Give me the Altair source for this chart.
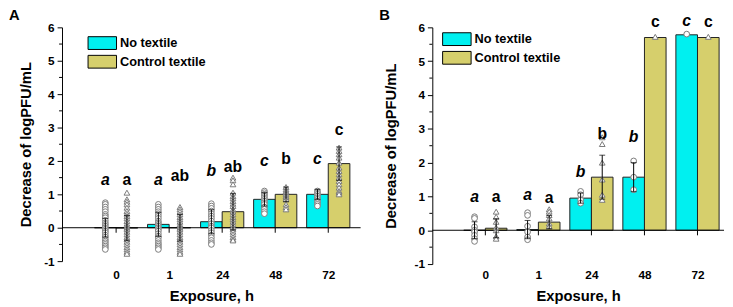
import altair as alt
import pandas as pd

hours = ["0", "1", "24", "48", "72"]
series = ["No textile", "Control textile"]
y_major = [-1, 0, 1, 2, 3, 4, 5, 6]
y_minor = [-0.5, 0.5, 1.5, 2.5, 3.5, 4.5, 5.5]

# Panel A
A_mean_no = [0.0, 0.10, 0.18, 0.85, 1.00]
A_mean_ctrl = [-0.01, 0.0, 0.48, 1.00, 1.92]
A_sd_no = [0.28, 0.36, 0.36, 0.20, 0.15]
A_sd_ctrl = [0.38, 0.40, 0.55, 0.22, 0.50]
A_let_no = ["a", "a", "b", "c", "c"]
A_let_ctrl = ["a", "ab", "ab", "b", "c"]
A_lety_no = [1.29, 1.29, 1.56, 1.86, 1.91]
A_lety_ctrl = [1.29, 1.41, 1.68, 1.91, 2.79]
A_pts_no = [
    [0.75, 0.7, 0.62, 0.55, 0.48, 0.4, 0.35, 0.3, 0.22, 0.15, 0.1, 0.05, 0.0,
     -0.05, -0.1, -0.15, -0.22, -0.28, -0.35, -0.4, -0.45, -0.5, -0.55, -0.6, -0.65],
    [0.7, 0.62, 0.55, 0.48, 0.42, 0.35, 0.28, 0.2, 0.15, 0.1, 0.05, 0.0, -0.05,
     -0.1, -0.18, -0.25, -0.3, -0.38, -0.45, -0.5, -0.55, -0.6, -0.65],
    [0.72, 0.65, 0.58, 0.5, 0.42, 0.35, 0.28, 0.2, 0.12, 0.05, 0.0, -0.08,
     -0.15, -0.22, -0.3, -0.38, -0.45, -0.5],
    [1.1, 1.05, 1.0, 0.95, 0.9, 0.85, 0.8, 0.75, 0.7, 0.62, 0.55, 0.48, 0.42],
    [1.1, 1.05, 1.0, 0.95, 0.9, 0.85, 0.8, 0.75, 0.7, 0.65],
]
A_pts_ctrl = [
    [1.05, 0.85, 0.78, 0.7, 0.6, 0.5, 0.42, 0.35, 0.28, 0.2, 0.12, 0.05, 0.0,
     -0.05, -0.12, -0.2, -0.28, -0.35, -0.42, -0.5, -0.58, -0.65, -0.72, -0.78],
    [0.62, 0.55, 0.48, 0.4, 0.32, 0.25, 0.18, 0.1, 0.05, 0.0, -0.05, -0.12,
     -0.2, -0.28, -0.35, -0.42, -0.5, -0.58, -0.65, -0.72, -0.78],
    [1.5, 1.42, 1.3, 1.05, 0.95, 0.88, 0.8, 0.72, 0.65, 0.55, 0.48, 0.4, 0.32,
     0.25, 0.18, 0.1, 0.02, -0.05, -0.12, -0.2, -0.28, -0.35, -0.38],
    [1.22, 1.15, 1.1, 1.05, 1.0, 0.95, 0.9, 0.85, 0.7, 0.62, 0.55],
    [2.4, 2.3, 2.2, 2.1, 1.95, 1.8, 1.7, 1.6, 1.5, 1.4, 1.3, 1.2, 1.1, 1.05, 1.0],
]

# Panel B
B_mean_no = [0.0, 0.02, 0.95, 1.57, 5.78]
B_mean_ctrl = [0.06, 0.24, 1.57, 5.70, 5.70]
B_sd_no = [0.25, 0.27, 0.15, 0.43, 0.0]
B_sd_ctrl = [0.28, 0.20, 0.65, 0.0, 0.0]
B_let_no = ["a", "a", "b", "b", "c"]
B_let_ctrl = ["a", "a", "b", "c", "c"]
B_lety_no = [0.85, 0.88, 1.57, 2.62, 6.03]
B_lety_ctrl = [0.85, 0.82, 2.71, 6.01, 6.01]
B_pts_no = [
    [0.4, 0.35, 0.1, 0.0, -0.05, -0.15, -0.25, -0.33],
    [0.52, 0.44, 0.12, -0.05, -0.2, -0.28],
    [1.15, 1.05, 0.9, 0.8],
    [2.05, 1.57, 1.2],
    [5.8],
]
B_pts_ctrl = [
    [0.55, 0.4, 0.25, 0.08, 0.0, -0.18, -0.25],
    [0.62, 0.55, 0.45, 0.35, 0.2, 0.12],
    [2.75, 2.55, 2.0, 1.5, 1.05, 0.9],
    [5.72],
    [5.72],
]

CYAN = "#00f0f0"
HATCH = "#d6cf6c"
FONT = "Liberation Sans"
HALF = 22 / 54  # bar width in group units


def build_tables(mean_no, mean_ctrl, sd_no, sd_ctrl, let_no, let_ctrl,
                 lety_no, lety_ctrl, pts_no, pts_ctrl):
    summ = []
    pts = []
    for i, h in enumerate(hours):
        for s, m, sd, lt, ly, pl in (
            (series[0], mean_no[i], sd_no[i], let_no[i], lety_no[i], pts_no[i]),
            (series[1], mean_ctrl[i], sd_ctrl[i], let_ctrl[i], lety_ctrl[i], pts_ctrl[i]),
        ):
            summ.append({"idx": i, "hour": h, "series": s, "mean": m, "sd": sd,
                         "letter": lt, "lety": ly})
            for v in pl:
                pts.append({"idx": i, "hour": h, "series": s, "value": v})
    return pd.DataFrame(summ), pd.DataFrame(pts)


label_expr = "[" + ",".join("'%s'" % h for h in hours) + "][datum.value]"
side = "(datum.series === '%s' ? -1 : 1)" % series[0]
is_no = "datum.series === '%s'" % series[0]


def panel(summ, pts, xdom, width, height, legx, legy, labpad, ytpad, letter):
    xs = alt.Scale(domain=xdom, nice=False, zero=False)
    ys = alt.Scale(domain=[-1, 6], nice=False, zero=False)
    xaxis = alt.Axis(values=list(range(len(hours))), labelExpr=label_expr,
                     domain=False, ticks=False, grid=False, title="Exposure, h",
                     labelFontSize=12, labelFontWeight="bold", labelColor="#000",
                     labelPadding=labpad, titleFontSize=15, titleFontWeight="bold",
                     titleColor="#000", titlePadding=8, labelFont=FONT, titleFont=FONT)
    yaxis = alt.Axis(values=y_major, labelOverlap=False, tickSize=5,
                     labelExpr="'' + datum.value",
                     grid=False, domainColor="#000", tickColor="#000",
                     title="Decrease of logPFU/mL", labelFontSize=12,
                     labelFontWeight="bold", labelColor="#000", labelPadding=3,
                     titleFontSize=15, titleFontWeight="bold", titleColor="#000",
                     titlePadding=ytpad, labelFont=FONT, titleFont=FONT)
    X = lambda f: alt.X(f, scale=xs, axis=xaxis)
    Y = lambda f: alt.Y(f, scale=ys, axis=yaxis)

    base = alt.Chart(summ).transform_calculate(
        xl="datum.idx + (%s < 0 ? -%f : 0)" % (side, HALF),
        xr="datum.idx + (%s < 0 ? 0 : %f)" % (side, HALF),
        xc="datum.idx + %s * %f" % (side, HALF / 2),
        lo="datum.mean - datum.sd",
        hi="datum.mean + datum.sd",
        zero="0",
    )

    bars = base.mark_rect(stroke="#222", strokeWidth=1).encode(
        x=X("xl:Q"),
        x2="xr:Q",
        y=Y("zero:Q"),
        y2="mean:Q",
        fill=alt.Fill("series:N",
                      scale=alt.Scale(domain=series, range=[CYAN, HATCH]),
                      legend=alt.Legend(title=None, orient="none", legendX=legx,
                                        legendY=legy, direction="vertical",
                                        symbolType="M-2.23,-1H2.23V1H-2.23Z",
                                        symbolSize=169, symbolStrokeColor="#000",
                                        symbolStrokeWidth=1, symbolOpacity=1,
                                        labelFontSize=13, labelFontWeight="bold",
                                        labelColor="#000", labelFont=FONT,
                                        labelOffset=11, rowPadding=1, padding=0)),
    )

    zero_line = alt.Chart(pd.DataFrame({"y": [0]})).mark_rule(
        color="#000", strokeWidth=1).encode(y=Y("y:Q"))

    minor = alt.Chart(pd.DataFrame({"y": y_minor})).mark_rule(
        color="#000", strokeWidth=1).encode(
        y=Y("y:Q"), x=alt.value(-3), x2=alt.value(0))

    ticks = alt.Chart(pd.DataFrame({"idx": list(range(len(hours)))})).transform_calculate(
        y0="0", y1="-0.15").mark_rule(color="#000", strokeWidth=1).encode(
        x=X("idx:Q"), y=Y("y0:Q"), y2="y1:Q")

    pbase = alt.Chart(pts).transform_calculate(
        xc="datum.idx + %s * %f" % (side, HALF / 2))
    pt_kw = dict(filled=False, fill="#fff", fillOpacity=1, strokeWidth=1,
                 color="#7a7a7a", size=34, opacity=1)
    circ = pbase.transform_filter(is_no).mark_point(shape="circle", **pt_kw).encode(
        x=X("xc:Q"), y=Y("value:Q"))
    tri = pbase.transform_filter("!(" + is_no + ")").mark_point(
        shape="triangle-up", **pt_kw).encode(x=X("xc:Q"), y=Y("value:Q"))

    err_base = base.transform_filter("datum.sd > 0")
    err = err_base.mark_rule(color="#000", strokeWidth=1).encode(
        x=X("xc:Q"), y=Y("lo:Q"), y2="hi:Q")
    cap_hi = err_base.mark_tick(
        color="#000", thickness=1, size=6, orient="horizontal").encode(
        x=X("xc:Q"), y=Y("hi:Q"))
    cap_lo = err_base.mark_tick(
        color="#000", thickness=1, size=6, orient="horizontal").encode(
        x=X("xc:Q"), y=Y("lo:Q"))

    let_no = base.transform_filter(is_no).mark_text(
        fontSize=16, fontWeight="bold", font=FONT, fontStyle="italic",
        baseline="alphabetic", color="#000").encode(
        x=X("xc:Q"), y=Y("lety:Q"), text="letter:N")
    let_ctrl = base.transform_filter("!(" + is_no + ")").mark_text(
        fontSize=16, fontWeight="bold", font=FONT,
        baseline="alphabetic", color="#000").encode(
        x=X("xc:Q"), y=Y("lety:Q"), text="letter:N")

    tag = alt.Chart(pd.DataFrame({"t": [letter]})).mark_text(
        fontSize=15, fontWeight="bold", font=FONT, align="left",
        baseline="alphabetic", color="#000").encode(
        text="t:N", x=alt.value(-54), y=alt.value(-8))

    return alt.layer(bars, zero_line, minor, ticks, circ, tri, err, cap_hi, cap_lo,
                     let_no, let_ctrl, tag).properties(width=width, height=height)


sA, pA = build_tables(A_mean_no, A_mean_ctrl, A_sd_no, A_sd_ctrl, A_let_no,
                      A_let_ctrl, A_lety_no, A_lety_ctrl, A_pts_no, A_pts_ctrl)
sB, pB = build_tables(B_mean_no, B_mean_ctrl, B_sd_no, B_sd_ctrl, B_let_no,
                      B_let_ctrl, B_lety_no, B_lety_ctrl, B_pts_no, B_pts_ctrl)

chartA = panel(sA, pA, [-1.02, 4.61], 304, 238, 34, 9, 9, 10, "A")
chartB = panel(sB, pB, [-1.0, 4.5], 297, 241, 18, 5, 6, 16, "B")

chart = alt.hconcat(chartA, chartB, spacing=17).resolve_scale(
    fill="independent"
).properties(padding={"left": 0, "top": -4, "right": 0, "bottom": 0}).configure_view(
    stroke="transparent"
).configure_axisY(labelOverlap=False)

chart.save("out.html", embed_options={"renderer": "svg", "actions": False})
